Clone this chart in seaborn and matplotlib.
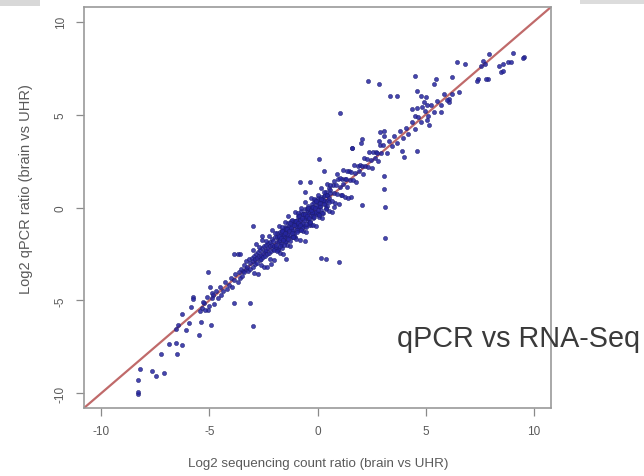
import matplotlib
matplotlib.use("Agg")
import matplotlib.pyplot as plt
import seaborn as sns
import pandas as pd
from matplotlib.patches import Rectangle

# ---------------- data ----------------
# scattered / peripheral points: log2 sequencing ratio (x), log2 qPCR ratio (y)
outer_x = [-8.30, -8.30, -8.30, -8.21, -7.66, -7.48, -7.11, -7.25, -6.51, -6.88,
           -6.56, -6.28, -6.56, -6.47, -6.10, -5.96, -6.28, -5.87, -5.78, -5.78,
           -5.41, -5.50, -4.91, -5.05, -5.23, -5.32, -4.86, -4.82, -4.95, -5.05,
           -3.85, -3.12, -2.98, -3.67, -3.85, -3.58, -2.98, -2.57, -2.16, -1.47,
           -0.60, 0.14, 0.41, 1.01, -0.32, -0.83, -0.37, -0.60, 0.28, 0.05,
           1.06, 1.61, 2.02, 1.56, 2.06, 0.78, 3.07, 3.07, 3.12, 3.12,
           3.90, 3.99, 4.59, 2.34, 2.84, 3.35, 3.67, 4.50, 5.46, 5.41,
           6.24, 4.59, 4.77, 5.00, 4.91, 5.05, 4.82, 4.36, 4.59, 5.73,
           6.10, 6.24, 6.06, 6.56, 5.05, 5.14, 4.50, 6.47, 6.83, 7.94,
           9.04, 9.54, 9.50, 8.81, 8.58, 8.39, 8.49, 8.58, 7.89, 7.43,
           7.39, 7.66, 7.75, 7.57, 8.94, 7.80, 3.07, 2.89, 3.07, 2.84,
           2.06, 1.61]
outer_y = [-10.03, -9.92, -9.27, -8.68, -8.79, -9.06, -8.89, -7.87, -7.87, -7.33,
           -7.28, -7.39, -6.52, -6.31, -6.58, -6.20, -5.71, -5.34, -4.80, -4.91,
           -6.15, -6.85, -6.31, -5.50, -5.12, -5.39, -4.58, -4.69, -4.26, -3.50,
           -5.17, -5.12, -6.36, -2.53, -2.48, -2.53, -0.97, -1.56, -3.07, -2.80,
           -1.83, -2.70, -2.80, -2.96, -0.92, 1.35, 1.35, 0.86, 1.94, 2.59,
           5.07, 3.23, 3.50, 0.59, 0.16, 0.05, 1.67, 1.02, 0.05, -1.62,
           3.02, 2.70, 3.02, 6.79, 6.63, 5.98, 5.98, 7.06, 6.90, 6.63,
           7.01, 6.25, 5.98, 5.93, 5.66, 5.50, 5.44, 5.28, 5.34, 5.12,
           5.82, 6.09, 5.66, 6.20, 4.74, 4.47, 4.91, 7.82, 7.71, 8.25,
           8.30, 8.09, 8.03, 7.82, 7.71, 7.60, 7.28, 7.33, 6.90, 6.90,
           6.79, 7.87, 7.71, 7.60, 7.82, 6.90, 4.10, 4.04, 3.83, 3.56,
           3.67, 3.23]

# main diagonal band of genes
band_x = [-5.45, -5.30, -5.20, -5.10, -5.00, -4.90, -4.80, -4.70, -4.60, -4.50,
          -4.45, -4.35, -4.30, -4.20, -4.10, -4.00, -3.95, -3.85, -3.80, -3.70,
          -3.65, -3.60, -3.55, -3.50, -3.45,
          -3.40, -3.38, -3.32, -3.30, -3.25, -3.20, -3.18, -3.12, -3.10, -3.05,
          -3.00, -2.98, -2.95, -2.90, -2.88, -2.85, -2.80, -2.78, -2.75, -2.70,
          -2.68, -2.65, -2.62, -2.60, -2.55, -2.52, -2.50, -2.48, -2.45, -2.42,
          -2.40, -2.38, -2.35, -2.30, -2.28, -2.25, -2.20, -2.18, -2.15, -2.12,
          -2.10, -2.08, -2.05, -2.02, -2.00,
          -1.95, -1.92, -1.89, -1.86, -1.83, -1.80, -1.77, -1.74, -1.71, -1.68,
          -1.65, -1.62, -1.59, -1.56, -1.53, -1.50, -1.47, -1.44, -1.41, -1.38,
          -1.35, -1.32, -1.29, -1.26, -1.23, -1.20, -1.17, -1.14, -1.11, -1.08,
          -1.05, -1.02, -0.99, -0.96, -0.93, -0.90, -0.87, -0.84, -0.81, -0.78,
          -0.75, -0.72, -0.69, -0.66, -0.63, -0.60, -0.57, -0.54, -0.51, -0.48,
          -0.45, -0.42, -0.39, -0.36, -0.33, -0.30, -0.27, -0.24, -0.21, -0.18,
          -0.15, -0.12, -0.09, -0.06, -0.03, 0.00, 0.03, 0.06, 0.09, 0.12,
          0.15, 0.18, 0.21, 0.24, 0.27, 0.30, 0.33, 0.36, 0.39, 0.42,
          0.45, 0.48, 0.51, 0.54, 0.57,
          -1.94, -1.89, -1.84, -1.79, -1.74, -1.69, -1.64, -1.59, -1.54, -1.49,
          -1.44, -1.39, -1.34, -1.29, -1.24, -1.19, -1.14, -1.09, -1.04, -0.99,
          -0.94, -0.89, -0.84, -0.79, -0.74, -0.69, -0.64, -0.59, -0.54, -0.49,
          -0.44, -0.39, -0.34, -0.29, -0.24, -0.19, -0.14, -0.09, -0.04, 0.01,
          0.06, 0.11, 0.16, 0.21, 0.26, 0.31, 0.36, 0.41, 0.46, 0.51,
          0.60, 0.66, 0.72, 0.78, 0.84, 0.90, 0.96, 1.02, 1.08, 1.14,
          1.20, 1.26, 1.32, 1.38, 1.44, 1.50, 1.56, 1.62, 1.68, 1.74,
          1.80, 1.86, 1.92, 1.98, 2.04, 2.10, 2.16, 2.22, 2.28, 2.34,
          2.40, 2.46, 2.52, 2.58, 2.64, 2.70, 2.76, 2.82, 2.88, 2.94,
          3.05, 3.20, 3.30, 3.45, 3.55, 3.70, 3.80, 3.95, 4.10, 4.20,
          4.35, 4.50, 4.65, 4.80, 4.95, 5.10, 5.25, 5.40, 5.55, 5.70,
          5.85, 6.00,
          -3.000, -2.925, -2.850, -2.775, -2.700, -2.625, -2.550, -2.475, -2.400, -2.325,
          -2.250, -2.175, -2.100, -2.025, -1.950, -1.875, -1.800, -1.725, -1.650, -1.575,
          -1.500, -1.425, -1.350, -1.275, -1.200, -1.125, -1.050, -0.975, -0.900, -0.825,
          -0.750, -0.675, -0.600, -0.525, -0.450, -0.375, -0.300, -0.225, -0.150, -0.075,
          0.000, 0.075, 0.150, 0.225, 0.300, 0.375, 0.450, 0.525, 0.600, 0.675,
          0.750, 0.825, 0.900, 0.975, 1.050, 1.125, 1.200, 1.275, 1.350, 1.425,
          -1.80, -1.75, -1.70, -1.65, -1.60, -1.55, -1.50, -1.45, -1.40, -1.35,
          -1.30, -1.25, -1.20, -1.15, -1.10, -1.05, -1.00, -0.95, -0.90, -0.85,
          -0.80, -0.75, -0.70, -0.65, -0.60, -0.55, -0.50, -0.45, -0.40, -0.35,
          -0.30, -0.25, -0.20, -0.15, -0.10, -0.05, 0.00, 0.05, 0.10, 0.15]
band_y = [-5.60, -5.10, -5.50, -4.80, -5.30, -4.90, -5.20, -4.50, -4.90, -4.30,
          -4.70, -4.50, -4.00, -4.40, -4.20, -3.80, -4.30, -3.90, -3.60, -4.00,
          -3.50, -3.80, -3.30, -3.70, -3.40,
          -3.10, -3.50, -3.30, -2.90, -3.20, -3.40, -2.80, -3.00, -3.30, -2.70,
          -2.90, -3.20, -2.60, -2.80, -3.05, -2.50, -2.70, -3.00, -2.40, -2.60,
          -2.85, -2.30, -2.55, -2.75, -2.20, -2.45, -2.65, -2.10, -2.35, -2.60,
          -2.00, -2.30, -2.50, -1.90, -2.20, -2.45, -1.85, -2.10, -2.35, -1.70,
          -2.00, -2.25, -1.80, -2.05, -2.30,
          -1.60, -2.12, -1.84, -1.36, -2.23, -1.65, -1.82, -1.34, -2.01, -1.43,
          -2.20, -1.52, -1.29, -1.71, -1.53, -1.05, -1.82, -1.24, -1.51, -0.83,
          -1.60, -0.97, -1.49, -1.21, -0.73, -1.60, -1.02, -1.19, -0.71, -1.38,
          -0.80, -1.57, -0.89, -0.66, -1.08, -0.90, -0.42, -1.19, -0.61, -0.88,
          -0.20, -0.97, -0.34, -0.86, -0.58, -0.10, -0.97, -0.39, -0.56, -0.08,
          -0.75, -0.17, -0.94, -0.26, -0.03, -0.45, -0.27, 0.21, -0.56, 0.02,
          -0.25, 0.43, -0.34, 0.29, -0.23, 0.05, 0.53, -0.34, 0.24, 0.07,
          0.55, -0.12, 0.46, -0.31, 0.37, 0.60, 0.18, 0.36, 0.84, 0.07,
          0.65, 0.38, 1.06, 0.29, 0.92,
          -2.04, -1.59, -2.29, -1.59, -1.74, -1.94, -1.19, -1.74, -1.44, -1.84,
          -1.09, -1.44, -1.09, -1.79, -1.09, -1.29, -0.84, -1.54, -0.84, -0.99,
          -1.19, -0.44, -0.99, -0.69, -1.09, -0.34, -0.69, -0.34, -1.04, -0.34,
          -0.54, -0.09, -0.79, -0.09, -0.24, -0.44, 0.31, -0.24, 0.06, -0.34,
          0.41, 0.06, 0.41, -0.29, 0.41, 0.21, 0.66, -0.04, 0.66, 0.51,
          0.80, 0.36, 1.22, 0.78, 1.19, 0.75, 1.56, 1.12, 0.68, 1.54,
          1.25, 1.56, 1.52, 1.08, 1.94, 1.50, 1.91, 1.47, 2.28, 1.84,
          1.40, 2.26, 1.97, 2.28, 2.24, 1.80, 2.66, 2.22, 2.63, 2.19,
          3.00, 2.56, 2.12, 2.98, 2.69, 3.00, 2.96, 2.52, 3.38, 2.94,
          3.35, 2.95, 3.60, 3.30, 3.85, 3.50, 4.10, 3.75, 4.30, 3.95,
          4.60, 4.25, 4.90, 4.60, 5.20, 4.95, 5.50, 5.15, 5.75, 5.50,
          6.10, 5.80,
          -2.30, -3.53, -1.95, -3.58, -2.15, -3.08, -1.75, -3.18, -1.80, -3.23,
          -1.55, -2.78, -1.20, -2.83, -1.40, -2.33, -1.00, -2.43, -1.05, -2.48,
          -0.80, -2.03, -0.45, -2.08, -0.65, -1.58, -0.25, -1.68, -0.30, -1.73,
          -0.05, -1.28, 0.30, -1.33, 0.10, -0.83, 0.50, -0.93, 0.45, -0.98,
          0.70, -0.53, 1.05, -0.58, 0.85, -0.08, 1.25, -0.18, 1.20, -0.23,
          1.45, 0.23, 1.80, 0.18, 1.60, 0.68, 2.00, 0.58, 1.95, 0.53,
          -1.55, -2.10, -1.65, -1.25, -1.75, -2.00, -1.35, -1.15, -1.15, -1.70,
          -1.25, -0.85, -1.35, -1.60, -0.95, -0.75, -0.75, -1.30, -0.85, -0.45,
          -0.95, -1.20, -0.55, -0.35, -0.35, -0.90, -0.45, -0.05, -0.55, -0.80,
          -0.15, 0.05, 0.05, -0.50, -0.05, 0.35, -0.15, -0.40, 0.25, 0.45]

x_ticks = [-10, -5, 0, 5, 10]
y_ticks = [-10, -5, 0, 5, 10]
x_label = "Log2 sequencing count ratio (brain vs UHR)"
y_label = "Log2 qPCR ratio (brain vs UHR)"
overlay_text = "qPCR vs RNA-Seq"
axis_lim = [-10.8, 10.8]

df = pd.DataFrame({
    "seq": outer_x + band_x,
    "qpcr": outer_y + band_y,
})

# ---------------- figure ----------------
sns.set_theme(style="white")
plt.rcParams["font.family"] = ["Liberation Sans", "DejaVu Sans"]

W, H = 644, 477
fig = plt.figure(figsize=(W / 100, H / 100), dpi=100)
ax = fig.add_axes([84 / W, 1 - 409 / H, (551 - 84) / W, (409 - 8) / H])

# identity line
ax.plot(axis_lim, axis_lim, color="#c06a6a", lw=1.6, zorder=1)

sns.scatterplot(data=df, x="seq", y="qpcr", ax=ax, color="#2626a0",
                s=9, edgecolor="#1c1c70", linewidth=0.4, alpha=0.85, zorder=2)

ax.set_xlim(axis_lim)
ax.set_ylim(axis_lim)
ax.set_xticks(x_ticks)
ax.set_yticks(y_ticks)
ax.set_xticklabels([str(t) for t in x_ticks])
ax.set_yticklabels([str(t) for t in y_ticks], rotation=90, va="center")
ax.tick_params(axis="both", which="major", bottom=True, left=True,
               direction="out", length=5.5, width=0.9,
               color="#8a8a8a", labelcolor="#5a5a5a", labelsize=8.5, pad=7)
ax.set_xlabel(x_label, fontsize=9.6, color="#5a5a5a")
ax.set_ylabel(y_label, fontsize=10.5, color="#5a5a5a")
ax.xaxis.set_label_coords((318 - 84) / 467, (409 - 458) / 401)
ax.yaxis.set_label_coords((33 - 84) / 467, (409 - 189) / 401)
for sp in ax.spines.values():
    sp.set_color("#9a9a9a")
    sp.set_linewidth(1.2)

# overlay title text
fig.text(397 / W, 1 - 339 / H, overlay_text, fontsize=20.7, color="#3a3a3a",
         ha="left", va="center")

# light grey slide bars at the top corners
fig.patches.append(Rectangle((0, 1 - 7 / H), 40 / W, 7 / H,
                             transform=fig.transFigure, color="#d8d8d8", lw=0))
fig.patches.append(Rectangle((580 / W, 1 - 5 / H), 64 / W, 5 / H,
                             transform=fig.transFigure, color="#dcdcdc", lw=0))

fig.savefig("out.png", dpi=100)
